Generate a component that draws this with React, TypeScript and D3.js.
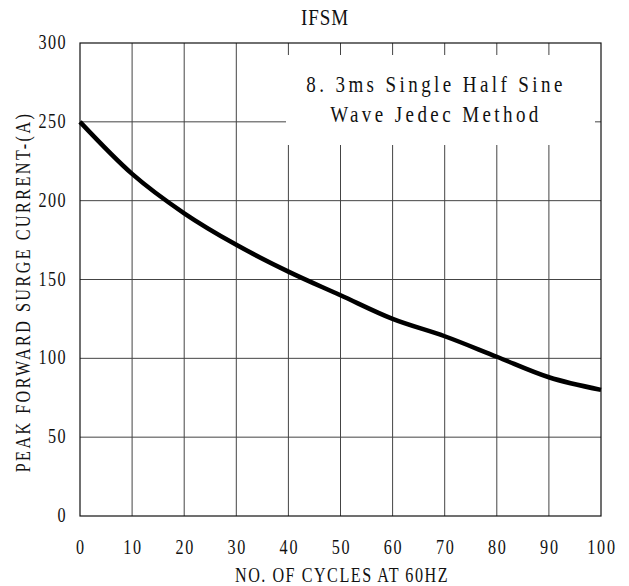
import React from "react";
import * as d3 from "d3";

const cycles = [0, 10, 20, 30, 40, 50, 60, 70, 80, 90, 100];
const current = [250, 217, 192, 172, 155, 140, 125, 114, 101, 88, 80];
const xTicks = [0, 10, 20, 30, 40, 50, 60, 70, 80, 90, 100];
const yTicks = [0, 50, 100, 150, 200, 250, 300];
const title = "IFSM";
const xLabel = "NO. OF CYCLES AT 60HZ";
const yLabel = "PEAK FORWARD SURGE CURRENT-(A)";
const noteLines = ["8. 3ms Single Half Sine", "Wave Jedec Method"];

const font = "'Liberation Serif', 'DejaVu Serif', serif";

function T({ x, y, anchor = "middle", size = 17, sx = 0.95, sy = 1.2, rot = 0, ls = 0, children }: any) {
  return (
    <text
      transform={`translate(${x},${y}) rotate(${rot}) scale(${sx},${sy})`}
      textAnchor={anchor}
      fontFamily={font}
      fontSize={size}
      fill="#111"
      letterSpacing={ls}
    >
      {children}
    </text>
  );
}

export default function App() {
  const W = 629, H = 586;
  const L = 80, R = 601, Tp = 43, B = 516;
  const x = d3.scaleLinear().domain([0, 100]).range([L, R]);
  const y = d3.scaleLinear().domain([0, 300]).range([B, Tp]);
  const line = d3
    .line<number>()
    .x((_, i) => x(cycles[i]))
    .y((d) => y(d))
    .curve(d3.curveMonotoneX);
  return (
    <svg width={W} height={H} style={{ position: "absolute", left: 0, top: 0, background: "#fff" }}>
      <rect x={0} y={0} width={W} height={H} fill="#fff" />
      {xTicks.slice(1, -1).map((t) => (
        <line key={"gx" + t} x1={x(t)} x2={x(t)} y1={Tp} y2={B} stroke="#444" strokeWidth={1} />
      ))}
      {yTicks.slice(1, -1).map((t) => (
        <line key={"gy" + t} x1={L} x2={R} y1={y(t)} y2={y(t)} stroke="#444" strokeWidth={1} />
      ))}
      <rect x={286} y={55} width={309} height={90} fill="#fff" />
      <rect x={L} y={Tp} width={R - L} height={B - Tp} fill="none" stroke="#111" strokeWidth={1.2} />
      <path d={line(current) || ""} fill="none" stroke="#000" strokeWidth={4.5} strokeLinejoin="round" />
      {noteLines.map((s, i) => (
        <T key={s} x={436} y={92 + i * 30} size={20} ls={3.6}>{s}</T>
      ))}
      <T x={325} y={25} size={20} ls={1}>{title}</T>
      {yTicks.map((t) => (
        <T key={"yt" + t} x={67} y={y(t) + 6} anchor="end" ls={1.5}>{t}</T>
      ))}
      {xTicks.map((t) => (
        <T key={"xt" + t} x={x(t) + 1} y={554} ls={1.8}>{t}</T>
      ))}
      <T x={342} y={582} size={17} ls={1.6}>{xLabel}</T>
      <T x={30} y={292} size={17} rot={-90} ls={2.6}>{yLabel}</T>
    </svg>
  );
}
